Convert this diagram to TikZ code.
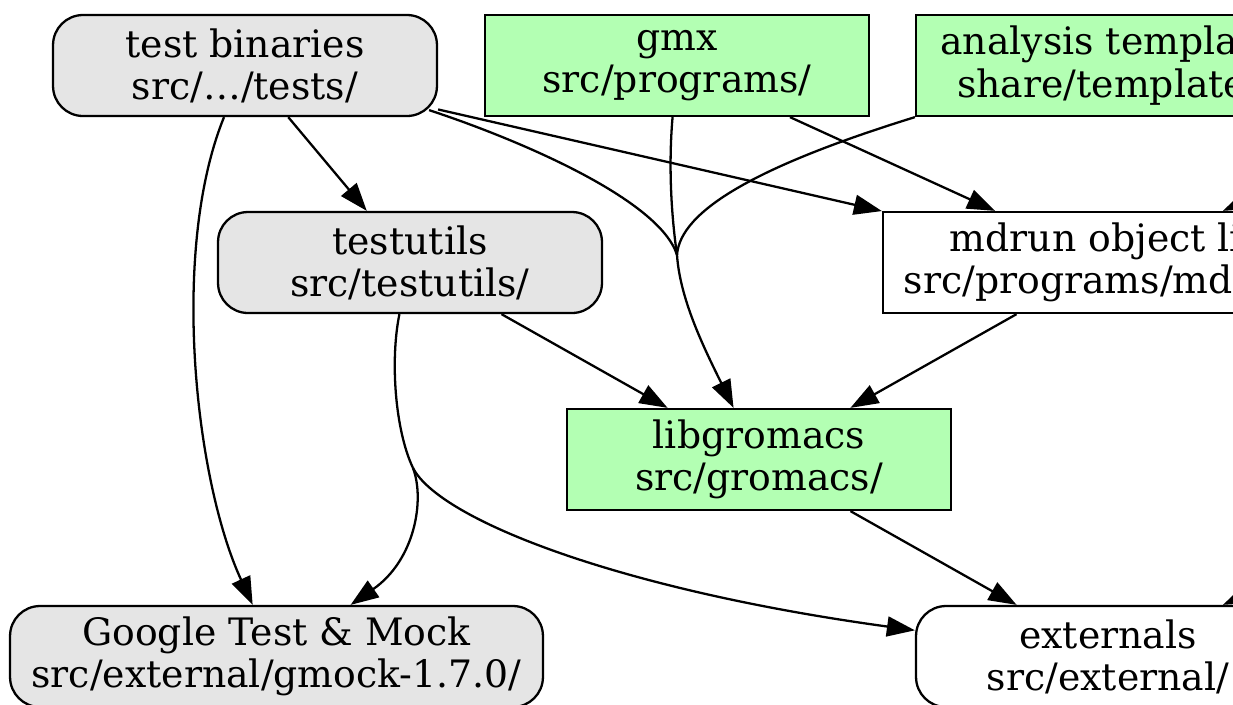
\documentclass[tikz,border=0pt]{standalone}
\usepackage{fontspec}
\setmainfont{DejaVu Serif}
\usetikzlibrary{arrows.meta}
\definecolor{testgray}{HTML}{E5E5E5}
\definecolor{libgreen}{HTML}{B3FFB3}
\begin{document}
\begin{tikzpicture}[x=0.02cm,y=-0.02cm]
    \tikzset{
        module/.style={draw, line width=1.3pt, minimum width=7.68cm, minimum height=2.02cm,
            inner sep=0pt, align=center, font=\fontsize{21.5}{24}\selectfont},
        testmod/.style={module, rounded corners=0.6cm, fill=testgray},
        libmod/.style={module, fill=libgreen},
        extmod/.style={module, rounded corners=0.6cm},
        dep/.style={-{Triangle[length=0.56cm,width=0.4cm]}, line width=1.3pt},
        mergeline/.style={line width=1.3pt}
    }
    \clip (0,0) rectangle (1233,704);
    \draw node[testmod] (tests) at (245,65.5) {test binaries\\src/…/tests/};
    \draw node[libmod] (gmx) at (677,65.5) {gmx\\src/programs/};
    \draw node[libmod] (analysis) at (1108,65.5) {analysis template\\share/template/};
    \draw node[testmod] (testutils) at (410,262.5) {testutils\\src/testutils/};
    \draw node[module, minimum width=9.0cm] (mdrun) at (1108,262.5) {mdrun object lib\\src/programs/mdrun/};
    \draw node[libmod] (libgromacs) at (759,459.5) {libgromacs\\src/gromacs/};
    \draw node[testmod, minimum width=10.66cm] (gmock) at (276.5,656.5) {Google Test \& Mock\\src/external/gmock-1.7.0/};
    \draw node[extmod] (externals) at (1108,656.5) {externals\\src/external/};
    % merge points and ends beyond the right edge
    \coordinate (m1) at (677,255);
    \coordinate (m2) at (413,468);
    \coordinate (offa) at (1547,65.5);
    \coordinate (offb) at (1547,459.5);
    \foreach \x/\y in {%
        tests/testutils,tests/mdrun,gmx/mdrun,mdrun/libgromacs,%
        testutils/libgromacs,libgromacs/externals,offa/mdrun,offb/externals%
    }
    {
        \draw (\x) edge[dep] (\y);
    }
    \draw[dep] (tests) .. controls (170,250) and (195,480) .. (gmock);
    \draw[mergeline] ([shift={(-9,-7)}]tests.south east) .. controls (520,140) and (660,200) .. (m1);
    \draw[mergeline] (gmx) .. controls (668,170) and (672,220) .. (m1);
    \draw[mergeline] (analysis.south west) .. controls (760,165) and (680,210) .. (m1);
    \draw[dep] (m1) .. controls (680,300) and (705,350) .. (libgromacs);
    \draw[mergeline] (testutils) .. controls (390,360) and (395,430) .. (m2);
    \draw[dep] (m2) .. controls (425,500) and (415,560) .. (gmock);
    \draw[dep] (m2) .. controls (440,520) and (620,590) .. (externals);
\end{tikzpicture}
\end{document}
